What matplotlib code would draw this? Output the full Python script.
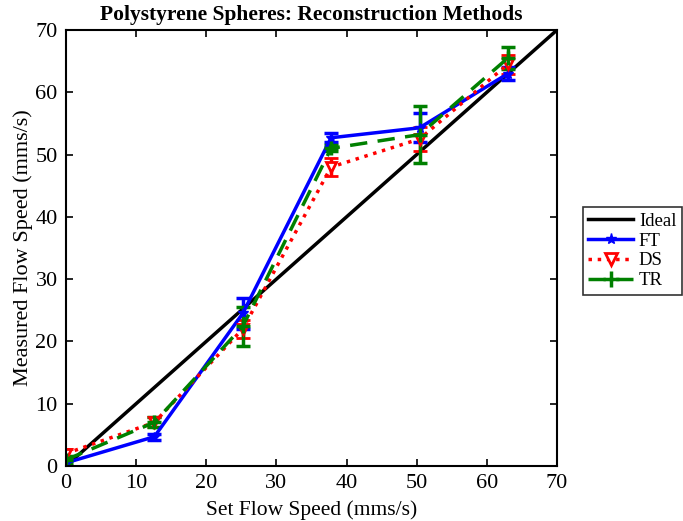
import numpy as np
import matplotlib
matplotlib.use('Agg')
import matplotlib.pyplot as plt
from matplotlib.lines import Line2D

plt.rcParams['font.family'] = ['Liberation Serif', 'DejaVu Serif']

# set flow speeds (mms/s)
setSpeed = [0, 12.6, 25.2, 37.8, 50.4, 63]
ideal = [0, 70]

ftVals = [0.5, 4.7, 24.5, 52.7, 54.3, 63.0]
ftErr = [0.5, 0.5, 2.5, 0.7, 2.3, 1.0]
dsVals = [2.0, 7.0, 22.0, 48.0, 52.5, 64.5]
dsErr = [0.8, 0.8, 1.5, 1.5, 1.9, 1.5]
trVals = [1.0, 7.0, 22.4, 51.0, 53.2, 65.5]
trErr = [0.6, 0.8, 3.1, 0.5, 4.6, 1.8]

fig = plt.figure(figsize=(6.83, 5.21), dpi=100)
ax = fig.add_axes([0.0966, 0.1056, 0.7189, 0.8368])

ax.plot(ideal, ideal, color='black', lw=2.5)
ax.errorbar(setSpeed, ftVals, yerr=ftErr, color='blue', lw=2.5, marker='*', ms=7,
			capsize=5, capthick=2.5, elinewidth=2.5)
ax.errorbar(setSpeed, dsVals, yerr=dsErr, color='red', lw=2.5, ls=':', marker='v', ms=7,
			mfc='white', mew=2, capsize=5, capthick=2.5, elinewidth=2.5)
ax.errorbar(setSpeed, trVals, yerr=trErr, color='green', lw=2.5, ls=(0, (5, 3)), marker='+', ms=10,
			mew=2.5, capsize=5, capthick=2.5, elinewidth=2.5)

ax.set_xlim(0, 70)
ax.set_ylim(0, 70)
ax.set_xticks(range(0, 71, 10))
ax.set_yticks(range(0, 71, 10))
ax.tick_params(direction='in', length=5, width=1.2, labelsize=16, top=True, right=True, pad=6)
for s in ax.spines.values():
	s.set_linewidth(1.5)

ax.set_xlabel('Set Flow Speed (mms/s)', fontsize=15.5, labelpad=5)
ax.set_ylabel('Measured Flow Speed (mms/s)', fontsize=16, labelpad=2)
ax.set_title('Polystyrene Spheres: Reconstruction Methods', fontsize=15.5, fontweight='bold', pad=7)

handles = [Line2D([], [], color='black', lw=2.5),
		   Line2D([], [], color='blue', lw=2.5, marker='*', ms=8),
		   Line2D([], [], color='red', lw=2.5, ls=':', marker='v', ms=8, mfc='white', mew=2),
		   Line2D([], [], color='green', lw=2.5, ls=(0, (5, 3)), marker='+', ms=11, mew=2.5)]
leg = fig.legend(handles, ['Ideal', 'FT', 'DS', 'TR'], loc='upper left', bbox_to_anchor=(0.853, 0.603),
				 fontsize=13.5, frameon=True, fancybox=False, edgecolor='black', handlelength=2.4,
				 borderpad=0.3, labelspacing=0.15, handletextpad=0.3, borderaxespad=0)
leg.get_frame().set_linewidth(1.2)

plt.savefig('out.png', dpi=100)
